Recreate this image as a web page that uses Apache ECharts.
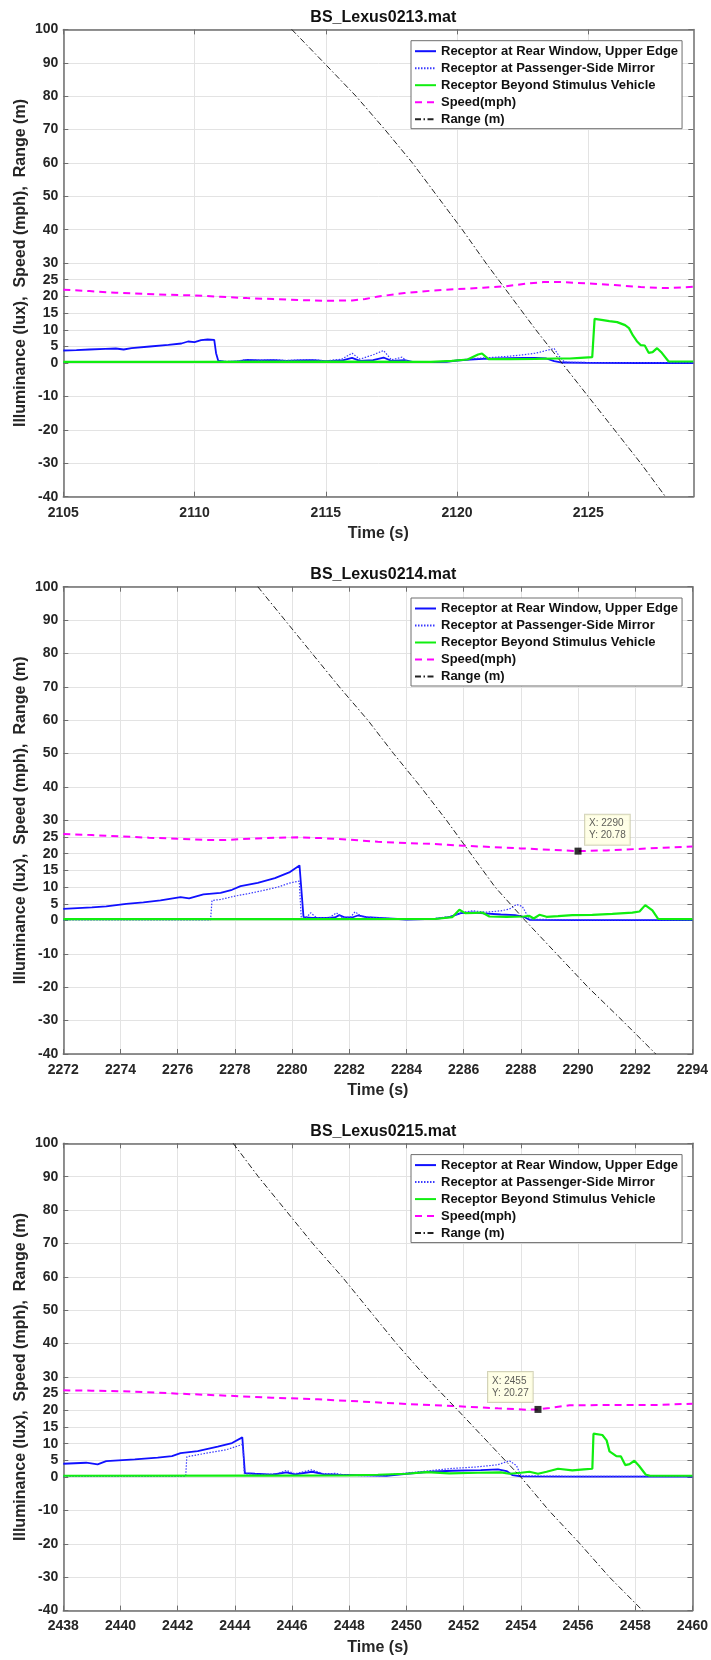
<!DOCTYPE html>
<html>
<head>
<meta charset="utf-8">
<title>BS_Lexus illuminance</title>
<script src="https://cdn.jsdelivr.net/npm/echarts@6/dist/echarts.min.js"></script>
<style>
  html, body { margin: 0; padding: 0; background: #fff; }
  #chart { width: 711px; height: 1660px; }
</style>
</head>
<body>
<div id="chart"></div>
<script>
// ---- data ([time s, value]) ----
const files = ['BS_Lexus0213.mat', 'BS_Lexus0214.mat', 'BS_Lexus0215.mat'];
const names = [
  'Receptor at Rear Window, Upper Edge',
  'Receptor at Passenger-Side Mirror',
  'Receptor Beyond Stimulus Vehicle',
  'Speed(mph)',
  'Range (m)'
];

const yTicks = [100, 90, 80, 70, 60, 50, 40, 30, 25, 20, 15, 10, 5, 0, -10, -20, -30, -40];
const xTicks1 = [2105, 2110, 2115, 2120, 2125];
const xTicks2 = [2272, 2274, 2276, 2278, 2280, 2282, 2284, 2286, 2288, 2290, 2292, 2294];
const xTicks3 = [2438, 2440, 2442, 2444, 2446, 2448, 2450, 2452, 2454, 2456, 2458, 2460];
const xRanges = [[2105, 2129], [2272, 2294], [2438, 2460]];

// plot 1
const rear1 = [[2105,3.8],[2105.5,3.9],[2106,4.1],[2106.6,4.3],[2107,4.4],[2107.3,4.1],[2107.6,4.5],[2108.3,5.0],[2109,5.5],[2109.5,5.9],[2109.75,6.5],[2110,6.3],[2110.25,6.9],[2110.5,7.1],[2110.75,7.0],[2110.82,3.0],[2110.9,0.8],[2111.2,0.4],[2111.6,0.5],[2112,1.0],[2112.5,0.8],[2113,0.9],[2113.5,0.7],[2114,0.8],[2114.5,0.9],[2115,0.6],[2115.6,0.8],[2116,1.6],[2116.3,0.7],[2116.8,0.9],[2117.2,1.7],[2117.5,0.7],[2118,0.9],[2118.3,0.4],[2119,0.3],[2119.6,0.4],[2120,0.8],[2120.5,1.1],[2121,1.3],[2121.5,1.4],[2122,1.5],[2122.5,1.6],[2123,1.6],[2123.4,1.4],[2123.7,0.6],[2124,0.2],[2125,0.1],[2127,0.05],[2129,0.05]];
const mirror1 = [[2105,0.2],[2110.8,0.2],[2110.9,0.6],[2111.5,0.5],[2112,1.1],[2112.5,0.9],[2113,1.1],[2113.5,0.8],[2114,1.0],[2114.5,1.1],[2115,0.7],[2115.6,1.2],[2116,3.0],[2116.3,1.2],[2116.8,2.5],[2117.2,3.8],[2117.5,1.0],[2117.9,1.8],[2118.1,0.5],[2119,0.3],[2120,0.8],[2120.5,1.3],[2121,1.6],[2121.5,1.8],[2122,2.1],[2122.5,2.5],[2123,3.0],[2123.4,3.8],[2123.7,4.4],[2123.9,2.0],[2124.1,0.3],[2125,0.2],[2129,0.15]];
const beyond1 = [[2105,0.4],[2110,0.4],[2115,0.45],[2119,0.4],[2119.8,0.7],[2120.4,1.1],[2120.8,2.6],[2120.95,2.9],[2121.2,1.2],[2122,1.2],[2123,1.3],[2123.8,1.4],[2124.3,1.4],[2124.7,1.6],[2125.15,1.8],[2125.24,13.3],[2125.5,13.0],[2125.8,12.6],[2126.1,12.3],[2126.4,11.4],[2126.55,10.5],[2126.7,8.3],[2126.85,6.6],[2127.0,5.4],[2127.15,5.3],[2127.3,3.1],[2127.45,3.3],[2127.62,4.5],[2127.8,3.1],[2128.06,0.5],[2128.5,0.5],[2129,0.5]];
const speed1 = [[2105,22.0],[2106,21.6],[2107,21.1],[2108,20.8],[2109,20.5],[2110,20.3],[2111,19.9],[2112,19.5],[2113,19.2],[2114,18.9],[2115,18.7],[2116,18.8],[2116.5,19.2],[2117,20.0],[2118,21.0],[2119,21.7],[2120,22.2],[2121,22.6],[2121.8,23.0],[2122.6,23.8],[2123.3,24.3],[2124,24.3],[2125,23.9],[2126,23.4],[2127,22.8],[2128,22.5],[2129,22.9]];
const range1 = [[2113.7,100],[2114.93,90],[2116.15,80],[2117.25,70],[2118.3,60],[2119.25,50],[2120.2,40],[2121.1,30],[2122.05,20],[2123.0,10],[2124.0,0],[2125.0,-10],[2126.0,-20],[2127.0,-30],[2127.94,-40]];

// plot 2
const rear2 = [[2272,3.5],[2272.5,3.7],[2273,3.9],[2273.5,4.2],[2274.2,5.0],[2274.8,5.4],[2275.4,6.0],[2276.1,7.0],[2276.4,6.6],[2276.9,7.8],[2277.5,8.3],[2277.9,9.2],[2278.2,10.3],[2278.8,11.3],[2279.4,12.7],[2279.9,14.4],[2280.26,16.5],[2280.4,1.0],[2280.7,0.8],[2281.2,0.8],[2281.5,0.9],[2281.65,1.6],[2281.85,0.9],[2282.1,0.9],[2282.3,1.5],[2282.6,1.0],[2283.2,0.7],[2284,0.3],[2285,0.5],[2285.5,1.0],[2285.9,2.2],[2286.3,2.4],[2286.7,2.1],[2287.3,1.8],[2287.8,1.6],[2288.1,1.1],[2288.3,0.2],[2290,0.1],[2294,0.1]];
const mirror2 = [[2272,0.2],[2277.15,0.2],[2277.2,6.0],[2277.5,6.3],[2278,7.3],[2278.5,8.1],[2279,9.0],[2279.5,10.0],[2279.9,11.2],[2280.25,11.8],[2280.32,1.0],[2280.5,0.9],[2280.65,2.3],[2280.85,0.9],[2281.3,0.8],[2281.55,2.3],[2281.75,0.9],[2282.05,1.0],[2282.2,2.6],[2282.45,1.1],[2283,0.8],[2284,0.3],[2285,0.6],[2285.6,1.3],[2286,2.5],[2286.3,2.9],[2286.8,2.5],[2287.3,2.9],[2287.6,3.4],[2287.85,4.8],[2288.05,4.2],[2288.3,0.4],[2290,0.15],[2294,0.15]];
const beyond2 = [[2272,0.4],[2280,0.4],[2285,0.45],[2285.6,1.0],[2285.85,3.2],[2286.05,2.2],[2286.4,2.3],[2286.65,2.4],[2286.9,1.2],[2287.5,1.1],[2288.1,1.2],[2288.3,1.4],[2288.45,0.6],[2288.65,1.7],[2288.9,1.1],[2289.3,1.3],[2289.8,1.6],[2290.5,1.7],[2291.2,2.0],[2291.9,2.35],[2292.15,2.7],[2292.35,4.6],[2292.6,3.0],[2292.8,0.5],[2294,0.4]];
const speed2 = [[2272,25.9],[2273,25.6],[2274,25.2],[2275,24.8],[2276,24.5],[2277,24.1],[2277.6,24.1],[2278.5,24.5],[2279.5,24.8],[2280.2,24.9],[2281,24.7],[2282,24.2],[2283,23.6],[2284,23.2],[2285,22.9],[2286,22.4],[2287,22.0],[2288,21.6],[2289,21.2],[2290,20.78],[2291,21.0],[2292,21.4],[2293,21.8],[2294,22.2]];
const range2 = [[2278.8,100],[2279.75,90],[2280.7,80],[2281.65,70],[2282.65,60],[2283.55,50],[2284.5,40],[2285.4,30],[2286.25,20],[2287.1,10],[2288.15,0],[2289.25,-10],[2290.35,-20],[2291.55,-30],[2292.72,-40]];
const tip2 = [2290, 20.78];

// plot 3
const rear3 = [[2438,4.0],[2438.8,4.3],[2439.2,3.8],[2439.5,4.8],[2440.5,5.3],[2441.3,5.8],[2441.8,6.3],[2442.1,7.2],[2442.7,7.8],[2443.4,9.1],[2443.9,10.2],[2444.26,11.9],[2444.35,1.2],[2444.7,1.0],[2445.3,0.7],[2445.8,1.4],[2446.1,0.8],[2446.7,1.6],[2447.1,0.9],[2447.6,0.7],[2448.5,0.5],[2449.3,0.4],[2450,1.0],[2450.8,1.6],[2451.6,1.9],[2452.6,2.1],[2453.2,2.3],[2453.5,1.8],[2453.7,0.6],[2454,0.2],[2456,0.15],[2460,0.15]];
const mirror3 = [[2438,0.2],[2442.28,0.2],[2442.32,6.1],[2442.9,7.0],[2443.7,8.2],[2444.2,9.6],[2444.28,9.8],[2444.33,1.0],[2445,0.8],[2445.5,1.0],[2445.8,2.0],[2446.1,1.0],[2446.7,2.2],[2447.1,1.0],[2447.5,1.1],[2448,0.5],[2449,0.4],[2450,1.2],[2450.8,1.9],[2451.6,2.6],[2452.4,3.0],[2453.2,3.7],[2453.6,4.9],[2453.85,3.4],[2454,0.4],[2456,0.2],[2460,0.2]];
const beyond3 = [[2438,0.4],[2445,0.45],[2448,0.5],[2449,0.7],[2450,1.0],[2450.7,1.5],[2451.5,1.1],[2452.5,1.3],[2453.3,1.4],[2453.6,1.0],[2454,1.3],[2454.3,1.6],[2454.6,1.0],[2454.9,1.6],[2455.3,2.5],[2455.8,2.0],[2456.2,2.3],[2456.5,2.5],[2456.54,13.0],[2456.85,12.6],[2457.0,11.0],[2457.1,7.7],[2457.34,6.3],[2457.5,6.2],[2457.65,3.6],[2457.8,3.9],[2457.97,4.9],[2458.13,3.4],[2458.37,0.7],[2458.5,0.45],[2460,0.4]];
const speed3 = [[2438,26.0],[2439,25.9],[2440.5,25.6],[2442,25.0],[2443.7,24.4],[2445.3,23.8],[2446.9,23.3],[2448.5,22.6],[2450,21.9],[2451.6,21.3],[2453.2,20.6],[2454.2,20.2],[2454.6,20.27],[2455,20.7],[2455.7,21.5],[2457,21.6],[2458.8,21.6],[2460,22.0]];
const range3 = [[2443.94,100],[2444.82,90],[2445.77,80],[2446.72,70],[2447.75,60],[2448.7,50],[2449.65,40],[2450.68,30],[2451.8,20],[2452.9,10],[2454.0,0],[2454.98,-10],[2456.07,-20],[2457.1,-30],[2458.26,-40]];
const tip3 = [2454.6, 20.27];

// ---- layout ----
const FONT = '"Liberation Sans", Arial, Helvetica, sans-serif';
const TEXT = '#262626';
const AXIS = '#6e6e6e';
const GRIDLINE = '#e3e3e3';
const gridTops = [29.4, 586.7, 1143.3];
const GRID_LEFT = 63.3;
const GRID_W = 630;
const GRID_H = 467.3;

const plots = [
  { xTicks: xTicks1, lines: [rear1, mirror1, beyond1, speed1, range1], tip: null },
  { xTicks: xTicks2, lines: [rear2, mirror2, beyond2, speed2, range2], tip: tip2, tipPos: [10.5, -33] },
  { xTicks: xTicks3, lines: [rear3, mirror3, beyond3, speed3, range3], tip: tip3, tipPos: [-46.5, -34] }
];

const styles = [
  { color: '#1010ff', width: 1.8, type: 'solid' },
  { color: '#3a3aff', width: 1.2, type: [1.5, 1.5] },
  { color: '#10ee10', width: 2.2, type: 'solid' },
  { color: '#ff00ff', width: 2, type: [7, 5] },
  { color: '#222222', width: 1, type: [6, 2.5, 1.5, 2.5] }
];

const grid = [], xAxis = [], yAxis = [], series = [], title = [], legend = [];

plots.forEach((p, i) => {
  const top = gridTops[i];
  grid.push({ left: GRID_LEFT, top: top, width: GRID_W, height: GRID_H, containLabel: false });

  title.push({
    text: files[i],
    left: GRID_LEFT + GRID_W / 2,
    textAlign: 'center',
    top: top - 25,
    textStyle: { fontFamily: FONT, fontSize: 16, fontWeight: 'bold', color: '#111' }
  });

  const [xmin, xmax] = xRanges[i];
  const tickCommon = { show: true, inside: true, length: 5, lineStyle: { color: AXIS, width: 1 } };

  // bottom x axis with labels and vertical grid
  xAxis.push({
    gridIndex: i, type: 'value', position: 'bottom', min: xmin, max: xmax,
    axisLine: { show: true, onZero: false, lineStyle: { color: AXIS, width: 1.5 } },
    axisTick: Object.assign({ customValues: p.xTicks }, tickCommon),
    axisLabel: {
      customValues: p.xTicks, margin: 9, fontFamily: FONT, fontSize: 14,
      fontWeight: 'bold', color: TEXT, formatter: v => String(v)
    },
    splitLine: { show: true, lineStyle: { color: GRIDLINE, width: 1 } },
    name: 'Time (s)', nameLocation: 'middle', nameGap: 29, nameMoveOverlap: false,
    nameTextStyle: { fontFamily: FONT, fontSize: 16, fontWeight: 'bold', color: TEXT }
  });
  // top x axis: box edge with inner ticks
  xAxis.push({
    gridIndex: i, type: 'value', position: 'top', min: xmin, max: xmax,
    axisLine: { show: true, onZero: false, lineStyle: { color: AXIS, width: 1.5 } },
    axisTick: Object.assign({ customValues: p.xTicks }, tickCommon),
    axisLabel: { show: false }, splitLine: { show: false }
  });

  // left y axis
  yAxis.push({
    gridIndex: i, type: 'value', position: 'left', min: -40, max: 100,
    axisLine: { show: true, onZero: false, lineStyle: { color: AXIS, width: 1.5 } },
    axisTick: Object.assign({ customValues: yTicks }, tickCommon),
    axisLabel: {
      customValues: yTicks, margin: 5, fontFamily: FONT, fontSize: 14,
      fontWeight: 'bold', color: TEXT
    },
    splitLine: { show: true, lineStyle: { color: GRIDLINE, width: 1 } },
    name: 'Illuminance (lux),  Speed (mph),  Range (m)',
    nameLocation: 'middle', nameGap: 35, nameMoveOverlap: false,
    nameTextStyle: { fontFamily: FONT, fontSize: 16, fontWeight: 'bold', color: TEXT }
  });
  // right y axis
  yAxis.push({
    gridIndex: i, type: 'value', position: 'right', min: -40, max: 100,
    axisLine: { show: true, onZero: false, lineStyle: { color: AXIS, width: 1.5 } },
    axisTick: Object.assign({ customValues: yTicks }, tickCommon),
    axisLabel: { show: false }, splitLine: { show: false }
  });

  p.lines.forEach((data, k) => {
    const s = styles[k];
    series.push({
      name: names[k], type: 'line', data: data,
      xAxisIndex: i * 2, yAxisIndex: i * 2,
      symbol: 'none', showSymbol: false, animation: false, z: 2 + k,
      lineStyle: { color: s.color, width: s.width, type: s.type },
      itemStyle: { color: s.color }
    });
  });

  if (p.tip) {
    series.push({
      type: 'scatter', data: [p.tip], xAxisIndex: i * 2, yAxisIndex: i * 2,
      symbol: 'rect', symbolSize: 7, itemStyle: { color: '#000' }, z: 20,
      animation: false, silent: true,
      label: {
        show: true, position: p.tipPos,
        formatter: d => 'X: ' + Math.round(d.value[0]) + '\nY: ' + d.value[1].toFixed(2),
        fontFamily: FONT, fontSize: 10, lineHeight: 12, color: '#333',
        backgroundColor: '#ffffe1', borderColor: '#c8c8a8', borderWidth: 1,
        padding: [3, 4, 3, 4]
      }
    });
  }

  legend.push({
    left: 411, top: top + 11.3, orient: 'vertical',
    data: names, selectedMode: false,
    itemWidth: 21, itemHeight: 10, itemGap: 4,
    padding: [4, 4, 3, 3],
    // line samples only, no symbol marker in the key
    itemStyle: { opacity: 0, color: 'rgba(0,0,0,0)', borderWidth: 0 },
    backgroundColor: '#fff', borderColor: '#6e6e6e', borderWidth: 1,
    textStyle: { fontFamily: FONT, fontSize: 13, fontWeight: 'bold', color: '#111' }
  });
});

const chart = echarts.init(document.getElementById('chart'), null, { renderer: 'canvas' });
chart.setOption({
  backgroundColor: '#fff',
  animation: false,
  title, grid, xAxis, yAxis, legend, series
});
</script>
</body>
</html>
